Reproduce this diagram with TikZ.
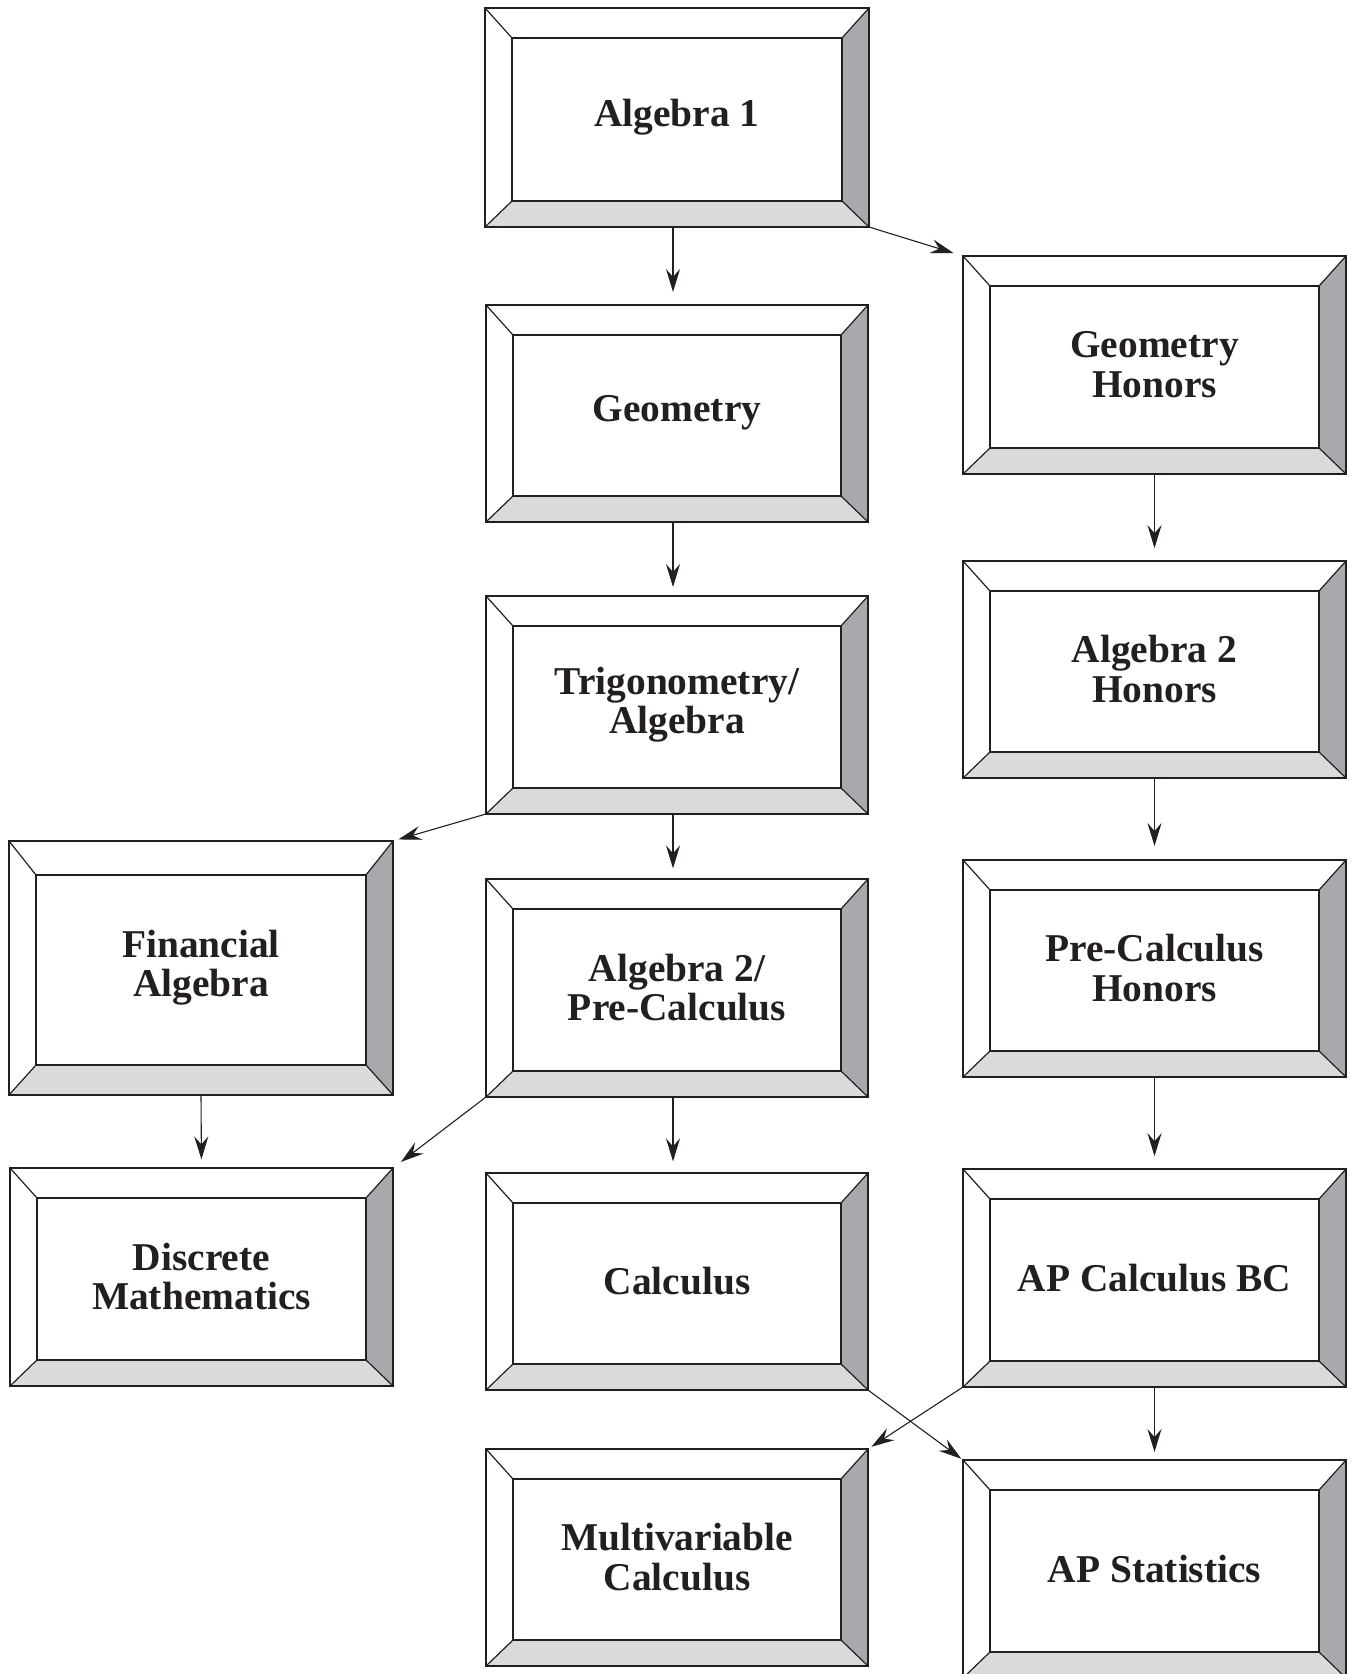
\documentclass[tikz,border=0pt]{standalone}
\usepackage{fontspec}
\setmainfont{Liberation Serif}
\usetikzlibrary{arrows.meta,fit}
\definecolor{ink}{HTML}{231F20}
\definecolor{bevdark}{HTML}{A8A9AD}
\definecolor{bevlight}{HTML}{D9DADC}
\tikzset{
  frame/.style={inner sep=0pt,outer sep=0pt},
  edge/.style={draw=ink,line width=0.6pt,line join=miter},
  coursetext/.style={font=\fontsize{19.7}{19.8}\selectfont\bfseries,text=ink,align=center,inner sep=0pt},
  arr/.style={draw=ink,line width=0.55pt,-{Stealth[length=11.5pt,width=7pt,inset=4pt]}},
}
% #1 name, #2 x1, #3 y1, #4 x2, #5 y2, #6 top bevel, #7 bottom bevel, #8 text
\newcommand\course[8]{%
  \coordinate (#1-a) at (#2,#3);
  \coordinate (#1-b) at (#4,#5);
  \node[frame,fit=(#1-a)(#1-b)] (#1) {};
  \coordinate (#1-inw) at ([shift={(27,#6)}]#1.north west);
  \coordinate (#1-ine) at ([shift={(-27,#6)}]#1.north east);
  \coordinate (#1-ise) at ([shift={(-27,-#7)}]#1.south east);
  \coordinate (#1-isw) at ([shift={(27,-#7)}]#1.south west);
  \fill[white] (#1.north west) rectangle (#1.south east);
  \fill[bevdark] (#1.north east) -- (#1.south east) -- (#1-ise) -- (#1-ine) -- cycle;
  \fill[bevlight] (#1.south west) -- (#1.south east) -- (#1-ise) -- (#1-isw) -- cycle;
  \draw[edge] (#1.north west) rectangle (#1.south east);
  \draw[edge] (#1-inw) rectangle (#1-ise);
  \draw[edge] (#1.north west) -- (#1-inw) (#1.north east) -- (#1-ine)
              (#1.south east) -- (#1-ise) (#1.south west) -- (#1-isw);
  \node[coursetext] (#1-t) at ([yshift=0.2pt]#1.center) {#8};
}
\begin{document}
\begin{tikzpicture}[x=0.5pt,y=-0.5pt]
\useasboundingbox (0,0) rectangle (1353,1674);
\clip (0,0) rectangle (1353,1674);
\fill[white] (0,0) rectangle (1353,1674);

\course{alg1}{485}{8}{869}{227}{30}{26}{Algebra 1}
\course{geom}{486}{305}{868}{522}{30}{26}{Geometry}
\course{trig}{486}{596}{868}{814}{30}{26}{Trigonometry/\\Algebra}
\course{alg2pc}{486}{879}{868}{1097}{30}{26}{Algebra 2/\\Pre-Calculus}
\course{calc}{486}{1173}{868}{1390}{30}{26}{Calculus}
\course{multi}{486}{1449}{868}{1666}{30}{26}{Multivariable\\Calculus}
\course{gh}{963}{256}{1346}{474}{30}{26}{Geometry\\Honors}
\course{a2h}{963}{561}{1346}{778}{30}{26}{Algebra 2\\Honors}
\course{pch}{963}{860}{1346}{1077}{30}{26}{Pre-Calculus\\Honors}
\course{apcbc}{963}{1169}{1346}{1387}{30}{26}{AP Calculus BC}
\course{apstat}{963}{1460}{1346}{1678}{30}{26}{AP Statistics}
\course{fin}{9}{841}{393}{1095}{34}{30}{Financial\\Algebra}
\course{disc}{10}{1168}{393}{1386}{30}{26}{Discrete\\Mathematics}

% vertical connectors
\draw[arr,shorten >=6.5pt] ([xshift=-2pt]alg1.south) -- ([xshift=-2pt]geom.north);
\draw[arr,shorten >=4.5pt] ([xshift=-2pt]geom.south) -- ([xshift=-2pt]trig.north);
\draw[arr,shorten >=5.3pt] ([xshift=-2pt]trig.south) -- ([xshift=-2pt]alg2pc.north);
\draw[arr,shorten >=5.8pt] ([xshift=-2pt]alg2pc.south) -- ([xshift=-2pt]calc.north);
\draw[arr,shorten >=4.3pt] (fin.south) -- (disc.north);
\draw[arr,shorten >=6.4pt] (gh.south) -- (a2h.north);
\draw[arr,shorten >=7pt] (a2h.south) -- (pch.north);
\draw[arr,shorten >=6.4pt] (pch.south) -- (apcbc.north);
\draw[arr,shorten >=4pt] (apcbc.south) -- (apstat.north);

% diagonal connectors
\draw[arr,shorten >=4.9pt] (alg1.south east) -- (gh.north west);
\draw[arr,shorten >=2.8pt] (trig.south west) -- (fin.north east);
\draw[arr,shorten >=5pt] (alg2pc.south west) -- (disc.north east);
\draw[arr,shorten >=1pt] (calc.south east) -- (apstat.north west);
\draw[arr,shorten >=2pt] (apcbc.south west) -- (multi.north east);
\end{tikzpicture}
\end{document}
